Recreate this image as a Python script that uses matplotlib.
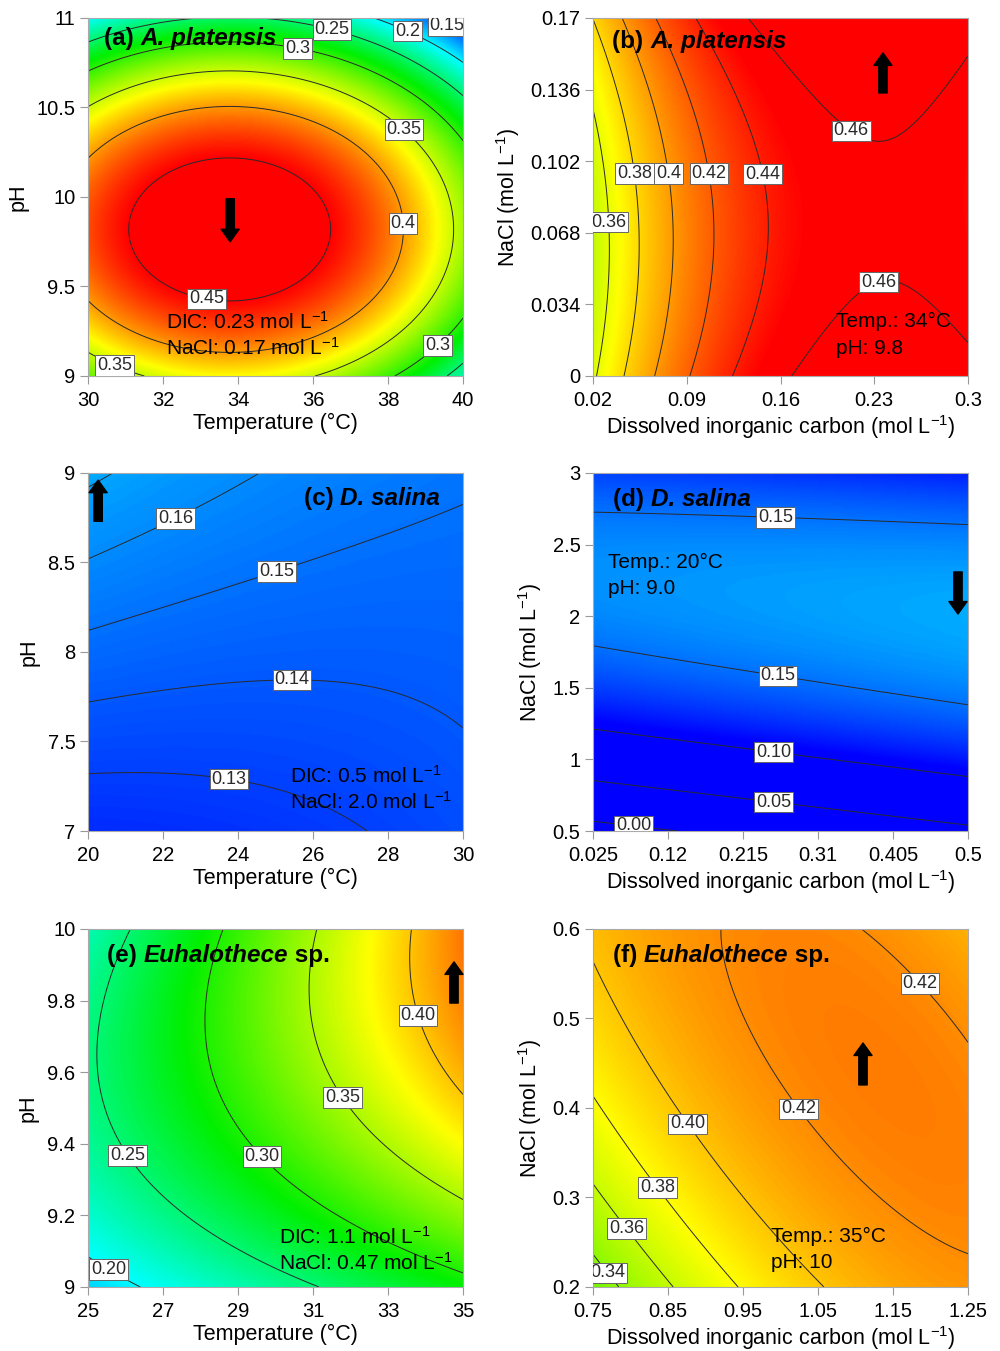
import numpy as np
import matplotlib
matplotlib.use('Agg')
from matplotlib import pyplot as plt
from matplotlib.colors import LinearSegmentedColormap

plt.rcParams['font.family'] = 'Liberation Sans'
plt.rcParams['mathtext.fontset'] = 'custom'
plt.rcParams['mathtext.rm'] = 'Liberation Sans'
plt.rcParams['mathtext.default'] = 'regular'

# factor ranges and response surface terms (coded units -1..1)
# terms: [const, x, y, x*y, x^2, y^2]
a_x = [30, 40]
a_y = [9, 11]
a_coef = [0.465, -0.043, -0.058, 0.0, -0.088, -0.160]
a_levels = [0.15, 0.2, 0.25, 0.3, 0.35, 0.4, 0.45]

b_x = [0.02, 0.3]
b_y = [0, 0.17]
b_coef = [0.4439, 0.049, 0.006, -0.0055, -0.0451, 0.019]
b_levels = [0.36, 0.38, 0.40, 0.42, 0.44, 0.46]

c_x = [20, 30]
c_y = [7, 9]
c_coef = [0.1426, -0.0018, 0.0165, -0.0085, 0.0026, 0.0]
c_levels = [0.13, 0.14, 0.15, 0.16, 0.17]

d_x = [0.025, 0.5]
d_y = [0.5, 3]
d_coef = [0.1590, 0.0105, 0.0546, -0.0177, -0.0009, -0.0886]
d_levels = [0.0, 0.05, 0.10, 0.15]

e_x = [25, 35]
e_y = [9, 10]
e_coef = [0.320, 0.076, 0.045, 0.024, -0.001, -0.037]
e_levels = [0.20, 0.25, 0.30, 0.35, 0.40]

f_x = [0.75, 1.25]
f_y = [0.2, 0.6]
f_coef = [0.418, 0.0229, 0.0158, -0.0209, -0.0175, -0.0114]
f_levels = [0.34, 0.36, 0.38, 0.40, 0.42]

# colour scale of each organism
platensis_range = [0.12, 0.45]
salina_range = [0.105, 0.505]
euhalothece_range = [0.11, 0.47]

a_xticks = [30, 32, 34, 36, 38, 40]
a_yticks = [9, 9.5, 10, 10.5, 11]
b_xticks = [0.02, 0.09, 0.16, 0.23, 0.3]
b_yticks = [0, 0.034, 0.068, 0.102, 0.136, 0.17]
c_xticks = [20, 22, 24, 26, 28, 30]
c_yticks = [7, 7.5, 8, 8.5, 9]
d_xticks = [0.025, 0.12, 0.215, 0.31, 0.405, 0.5]
d_yticks = [0.5, 1, 1.5, 2, 2.5, 3]
e_xticks = [25, 27, 29, 31, 33, 35]
e_yticks = [9, 9.2, 9.4, 9.6, 9.8, 10]
f_xticks = [0.75, 0.85, 0.95, 1.05, 1.15, 1.25]
f_yticks = [0.2, 0.3, 0.4, 0.5, 0.6]

cmap = LinearSegmentedColormap.from_list(
    'de', ['#0000ff', '#00ffff', '#00f000', '#ffff00', '#ff0000'])

temp_label = 'Temperature (°C)'
dic_label = 'Dissolved inorganic carbon (mol L$^{-1}$)'
nacl_label = 'NaCl (mol L$^{-1}$)'

fig = plt.figure(figsize=(10, 13.51), dpi=100)


def surface(xr, yr, coef, n=300):
    x = np.linspace(xr[0], xr[1], n)
    y = np.linspace(yr[0], yr[1], n)
    X, Y = np.meshgrid(x, y)
    u = (X - (xr[0] + xr[1]) / 2) / ((xr[1] - xr[0]) / 2)
    v = (Y - (yr[0] + yr[1]) / 2) / ((yr[1] - yr[0]) / 2)
    b0, b1, b2, b12, b11, b22 = coef
    Z = b0 + b1*u + b2*v + b12*u*v + b11*u**2 + b22*v**2
    return x, y, Z


def panel(rect, xr, yr, coef, levels, crange, fmt, label_pos,
          xticks, yticks, xlabel, ylabel):
    ax = fig.add_axes(rect)
    x, y, Z = surface(xr, yr, coef)
    ax.imshow(Z, extent=[xr[0], xr[1], yr[0], yr[1]], origin='lower',
              aspect='auto', cmap=cmap, vmin=crange[0], vmax=crange[1],
              interpolation='bilinear')
    cs = ax.contour(x, y, Z, levels=levels, colors='#2a2a2a', linewidths=0.7)
    texts = ax.clabel(cs, fmt=fmt, manual=label_pos, inline=False, fontsize=13)
    for t in texts:
        t.set_rotation(0)
        t.set_bbox(dict(boxstyle='square,pad=0.1', fc='white',
                        ec='#666666', lw=0.7))
    ax.set_xlim(xr)
    ax.set_ylim(yr)
    ax.set_xticks(xticks)
    ax.set_yticks(yticks)
    ax.set_xticklabels(['%g' % v for v in xticks])
    ax.set_yticklabels(['%g' % v for v in yticks])
    ax.tick_params(direction='out', length=6, width=0.8, color='#999999',
                   labelsize=14.5)
    ax.tick_params(axis='x', pad=5)
    ax.tick_params(axis='y', pad=3)
    for s in ax.spines.values():
        s.set_color('#aaaaaa')
        s.set_linewidth(0.8)
    ax.set_xlabel(xlabel, fontsize=15.5, labelpad=2)
    ax.set_ylabel(ylabel, fontsize=15.5, labelpad=6)
    return ax


def title(ax, parts, xf, yf, right=False):
    if right:
        parts = parts[::-1]
    prev = None
    for txt, italic in parts:
        style = 'italic' if italic else 'normal'
        if prev is None:
            prev = ax.text(xf, yf, txt, transform=ax.transAxes, fontsize=17.5,
                           fontweight='bold', style=style, va='center',
                           ha='right' if right else 'left')
        else:
            prev = ax.annotate(txt, xy=(0, 0) if right else (1, 0),
                               xycoords=prev, fontsize=17.5, fontweight='bold',
                               style=style, va='bottom',
                               ha='right' if right else 'left')


def note(ax, lines, xf, yf):
    for i, line in enumerate(lines):
        ax.text(xf, yf - i*0.073, line, transform=ax.transAxes, fontsize=15,
                va='center', ha='left')


def arrow(ax, tail, tip):
    ax.annotate('', xy=tip, xytext=tail,
                arrowprops=dict(facecolor='black', edgecolor='black',
                                width=6, headwidth=13, headlength=9, shrink=0))


w, h = 0.375, 0.265
ax = panel([0.088, 0.7217, w, h], a_x, a_y, a_coef, a_levels, platensis_range,
           '%g', [(35.6, 10.84), (36.5, 10.93), (38.5, 10.92), (39.5, 10.93),
                  (38.4, 10.37), (38.3, 9.85), (33.2, 9.48), (30.85, 9.13),
                  (39.2, 9.2)],
           a_xticks, a_yticks, temp_label, 'pH')
title(ax, [('(a) ', False), ('A. platensis', True)], 0.043, 0.944)
note(ax, ['DIC: 0.23 mol L$^{-1}$', 'NaCl: 0.17 mol L$^{-1}$'], 0.208, 0.151)
arrow(ax, (33.79, 9.99), (33.79, 9.75))

ax = panel([0.593, 0.7217, w, h], b_x, b_y, b_coef, b_levels, platensis_range,
           '%g', [(0.0529, 0.0964), (0.079, 0.0964), (0.110, 0.0964),
                  (0.151, 0.0964), (0.0334, 0.0731), (0.2186, 0.1216),
                  (0.2328, 0.0456)],
           b_xticks, b_yticks, dic_label, nacl_label)
title(ax, [('(b) ', False), ('A. platensis', True)], 0.051, 0.933)
note(ax, ['Temp.: 34°C', 'pH: 9.8'], 0.649, 0.151)
arrow(ax, (0.2365, 0.1344), (0.2365, 0.1534))

ax = panel([0.088, 0.3849, w, h], c_x, c_y, c_coef, c_levels, salina_range,
           '%g', [(22.24, 8.79), (24.9, 8.53), (25.44, 7.9), (23.79, 7.33)],
           c_xticks, c_yticks, temp_label, 'pH')
title(ax, [('(c) ', False), ('D. salina', True)], 0.939, 0.93, right=True)
note(ax, ['DIC: 0.5 mol L$^{-1}$', 'NaCl: 2.0 mol L$^{-1}$'], 0.539, 0.154)
arrow(ax, (20.27, 8.73), (20.27, 8.96))

ax = panel([0.593, 0.3849, w, h], d_x, d_y, d_coef, d_levels, salina_range,
           '%.2f', [(0.2568, 2.756), (0.2619, 1.666), (0.2555, 1.129),
                    (0.2555, 0.779), (0.0782, 0.612)],
           d_xticks, d_yticks, dic_label, nacl_label)
title(ax, [('(d) ', False), ('D. salina', True)], 0.053, 0.925)
note(ax, ['Temp.: 20°C', 'pH: 9.0'], 0.04, 0.751)
arrow(ax, (0.4873, 2.309), (0.4873, 2.015))

ax = panel([0.088, 0.0474, w, h], e_x, e_y, e_coef, e_levels,
           euhalothece_range,
           '%.2f', [(33.88, 9.76), (31.88, 9.536), (29.77, 9.377),
                    (26.39, 9.391), (25.77, 9.089)],
           e_xticks, e_yticks, temp_label, 'pH')
title(ax, [('(e) ', False), ('Euhalothece', True), (' sp.', False)], 0.051, 0.925)
note(ax, ['DIC: 1.1 mol L$^{-1}$', 'NaCl: 0.47 mol L$^{-1}$'], 0.509, 0.140)
arrow(ax, (34.76, 9.793), (34.76, 9.908))

ax = panel([0.593, 0.0474, w, h], f_x, f_y, f_coef, f_levels,
           euhalothece_range,
           '%.2f', [(1.187, 0.5397), (1.026, 0.40), (0.882, 0.3855),
                    (0.842, 0.315), (0.802, 0.270), (0.778, 0.2212)],
           f_xticks, f_yticks, dic_label, nacl_label)
title(ax, [('(f) ', False), ('Euhalothece', True), (' sp.', False)], 0.053, 0.925)
note(ax, ['Temp.: 35°C', 'pH: 10'], 0.475, 0.140)
arrow(ax, (1.11, 0.4257), (1.11, 0.4726))

fig.savefig('out.png', dpi=100)
